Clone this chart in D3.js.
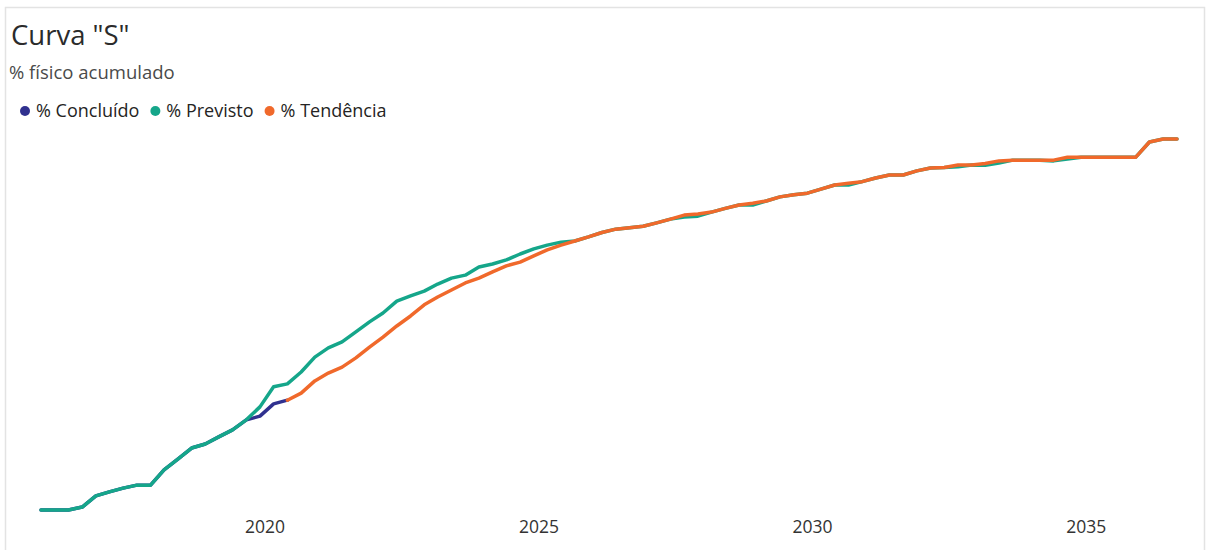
<!DOCTYPE html>
<html>
<head>
<meta charset="utf-8">
<script src="https://cdn.jsdelivr.net/npm/d3@7"></script>
<style>
  html, body { margin: 0; padding: 0; background: #ffffff; }
  svg { display: block; }
</style>
</head>
<body>
<svg id="chart" width="1210" height="550"></svg>
<script>
// ---------- DATA ----------
const title = 'Curva "S"';
const subtitle = "% físico acumulado";
const seriesNames = ["% Concluído", "% Previsto", "% Tendência"];
const seriesColors = ["#30318f", "#15a68a", "#f0692b"];
const tickYears = [2020, 2025, 2030, 2035];

// quarterly periods, Dec 2015 .. Sep 2036
const periods = d3.timeMonth.range(new Date(2015, 11, 1), new Date(2036, 9, 1), 3);

// % Concluído (periods 0..18)
const concluido = [0, 0, 0, 0.8, 3.8, 4.9, 5.9, 6.7, 6.7, 10.8, 13.7, 16.7, 17.8, 19.7, 21.6, 24.3, 25.3, 28.6, 29.6];

// % Previsto (all periods)
const previsto = [
  0, 0, 0, 0.8, 3.8, 4.9, 5.9, 6.7, 6.7, 10.8,
  13.7, 16.7, 17.8, 19.7, 21.6, 24.3, 27.8, 33.2, 34.0, 37.2,
  41.2, 43.7, 45.3, 48.0, 50.7, 53.1, 56.3, 57.7, 59.0, 60.9,
  62.5, 63.3, 65.5, 66.3, 67.4, 69.0, 70.4, 71.4, 72.2, 72.5,
  73.6, 74.8, 75.7, 76.1, 76.5, 77.4, 78.4, 79.0, 79.2, 80.3,
  81.3, 82.2, 82.2, 83.3, 84.4, 85.0, 85.4, 86.5, 87.6, 87.6,
  88.5, 89.5, 90.3, 90.3, 91.4, 92.2, 92.3, 92.5, 93.0, 92.9,
  93.5, 94.3, 94.3, 94.3, 94.1, 94.6, 95.1, 95.1, 95.1, 95.1,
  95.1, 99.2, 100, 100
];

// % Tendência (periods 18..83)
const tendenciaStart = 18;
const tendencia = [
  29.6, 31.5, 34.8, 36.9, 38.5, 41.0, 43.9, 46.6, 49.6, 52.3,
  55.3, 57.4, 59.3, 61.2, 62.5, 64.2, 65.8, 66.8, 68.5, 70.1,
  71.4, 72.5, 73.6, 74.8, 75.7, 76.1, 76.5, 77.4, 78.4, 79.5,
  79.8, 80.3, 81.3, 82.2, 82.7, 83.3, 84.4, 85.0, 85.4, 86.5,
  87.6, 88.1, 88.5, 89.5, 90.3, 90.3, 91.4, 92.2, 92.3, 93.0,
  93.0, 93.4, 94.1, 94.3, 94.3, 94.3, 94.3, 95.1, 95.1, 95.1,
  95.1, 95.1, 95.1, 99.2, 100, 100
];

// ---------- CHART ----------
const svg = d3.select("#chart");
const font = "'Segoe UI', 'Open Sans', 'Noto Sans', sans-serif";

// card border
svg.append("rect")
  .attr("x", 5.5).attr("y", 7.5)
  .attr("width", 1199).attr("height", 560)
  .attr("fill", "#fff")
  .attr("stroke", "#e3e3e3").attr("stroke-width", 1.5);

svg.append("text")
  .attr("x", 11).attr("y", 45)
  .attr("font-family", font).attr("font-size", 27.5)
  .attr("fill", "#2b2b2b")
  .text(title);

svg.append("text")
  .attr("x", 9).attr("y", 79)
  .attr("font-family", font).attr("font-size", 18.5)
  .attr("fill", "#4a4a4a")
  .text(subtitle);

// legend
const legend = svg.append("g").attr("transform", "translate(0,111)");
let lx = 25;
seriesNames.forEach((name, i) => {
  legend.append("circle").attr("cx", lx).attr("cy", 0).attr("r", 5).attr("fill", seriesColors[i]);
  const t = legend.append("text")
    .attr("x", lx + 11).attr("y", 6.3)
    .attr("font-family", font).attr("font-size", 18)
    .attr("fill", "#252423")
    .text(name);
  lx += 11 + t.node().getComputedTextLength() + 16;
});

const x = d3.scaleTime()
  .domain([periods[0], periods[periods.length - 1]])
  .range([41, 1177]);
const y = d3.scaleLinear().domain([0, 100]).range([510, 139]);

// x axis
const xAxis = d3.axisBottom(x)
  .tickValues(tickYears.map(yr => new Date(yr, 0, 1)))
  .tickFormat(d3.timeFormat("%Y"))
  .tickSize(0).tickPadding(0);
const ax = svg.append("g").attr("transform", "translate(0,519)").call(xAxis);
ax.select(".domain").remove();
ax.selectAll("text")
  .attr("font-family", font).attr("font-size", 17.5)
  .attr("fill", "#333333").attr("dy", "0.8em");

const line = d3.line()
  .defined(d => d.v != null)
  .x(d => x(d.date))
  .y(d => y(d.v));

const seriesData = [
  concluido.map((v, i) => ({ date: periods[i], v })),
  previsto.map((v, i) => ({ date: periods[i], v })),
  tendencia.map((v, i) => ({ date: periods[i + tendenciaStart], v }))
];

seriesData.forEach((data, i) => {
  svg.append("path")
    .datum(data)
    .attr("fill", "none")
    .attr("stroke", seriesColors[i])
    .attr("stroke-width", 3.5)
    .attr("stroke-linejoin", "round")
    .attr("stroke-linecap", "round")
    .attr("d", line);
});
</script>
</body>
</html>
